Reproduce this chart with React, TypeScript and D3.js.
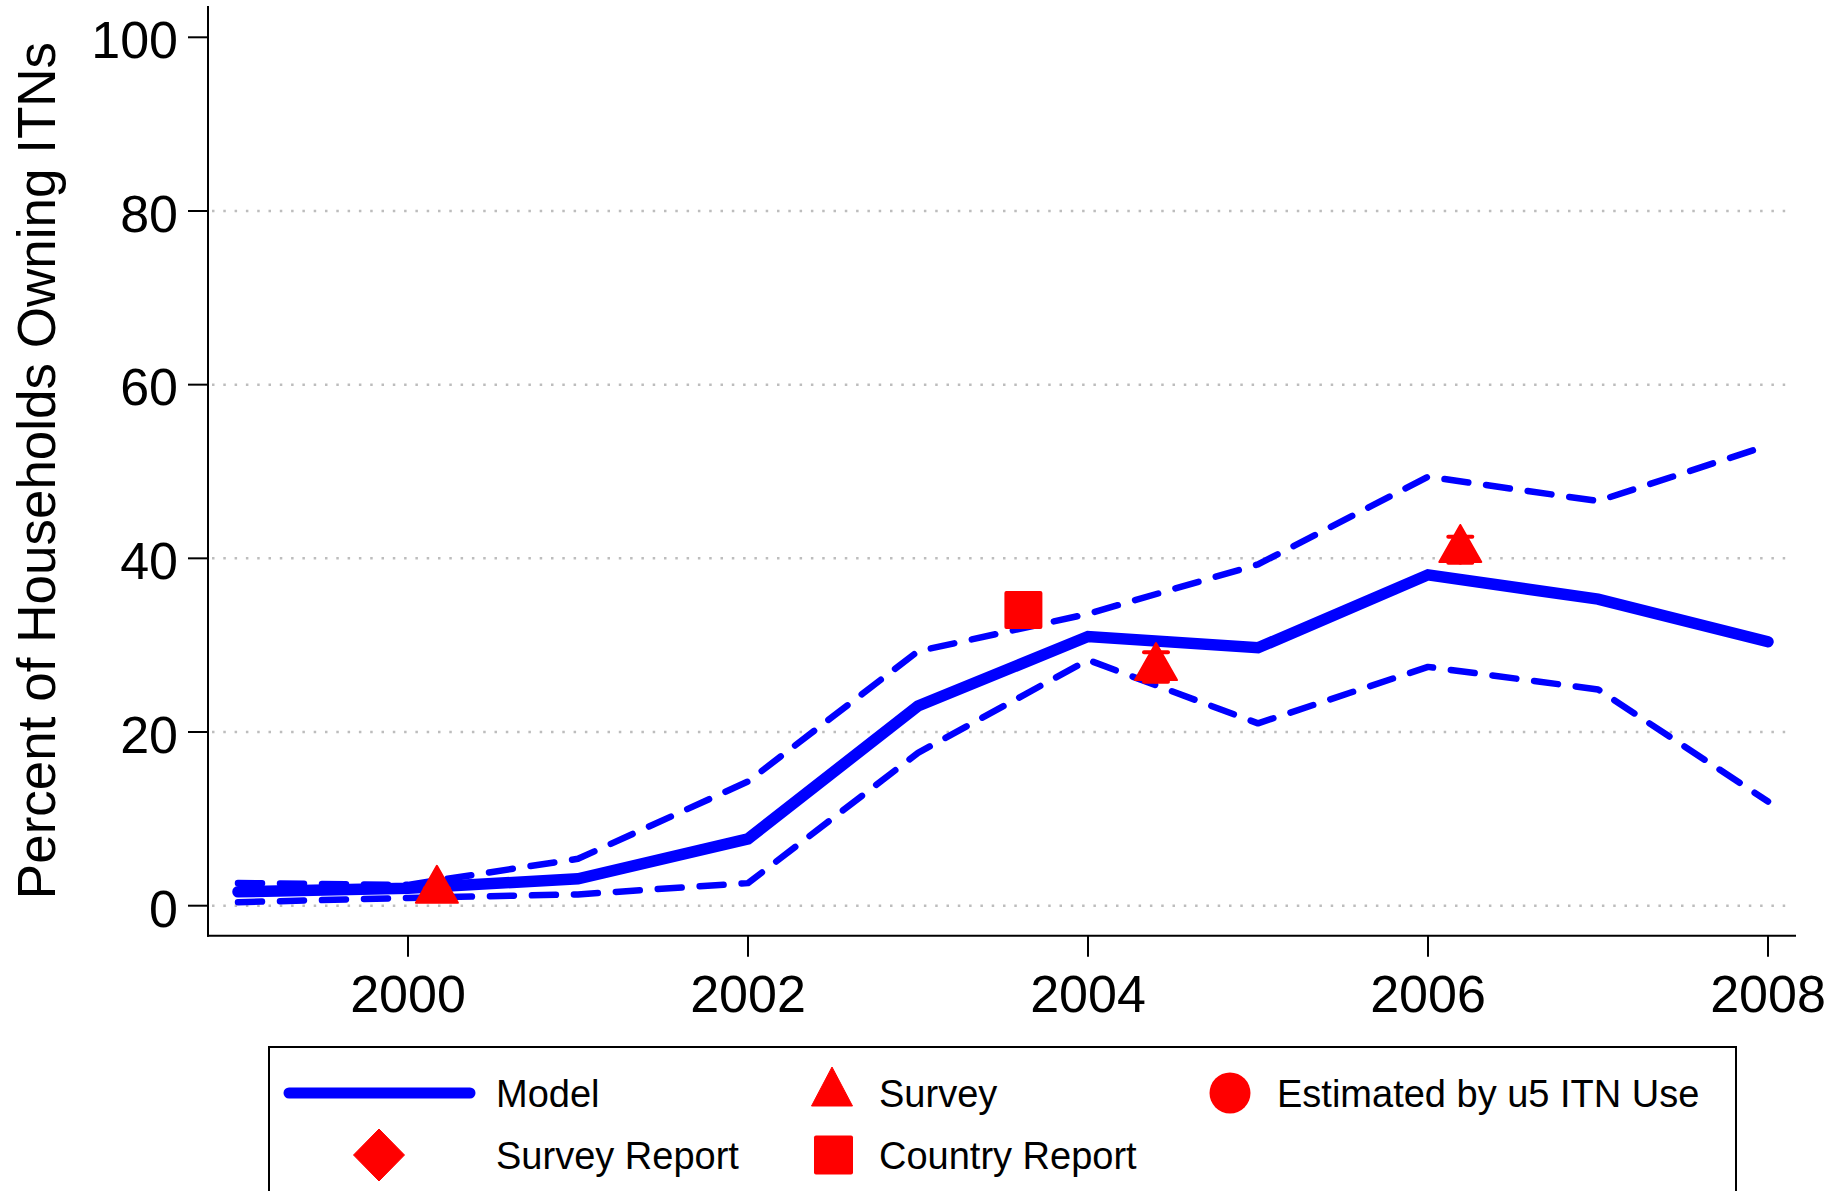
import React from "react";
import * as d3 from "d3";

const years = [1999, 2000, 2001, 2002, 2003, 2004, 2005, 2006, 2007, 2008];
const modelValues = [1.6, 2.0, 3.1, 7.7, 23.0, 31.0, 29.7, 38.1, 35.3, 30.4];
const upperValues = [2.6, 2.4, 5.4, 14.3, 29.3, 33.6, 39.3, 49.4, 46.6, 53.0];
const lowerValues = [0.4, 0.9, 1.3, 2.6, 17.6, 28.3, 21.0, 27.5, 24.9, 12.0];

const surveyYears = [2000.17, 2004.4, 2006.19];
const surveyValues = [1.75, 27.4, 41.0];
const surveyLow = [1.5, 25.8, 39.5];
const surveyHigh = [2.0, 29.2, 42.5];

const countryYears = [2003.62];
const countryValues = [34.05];

const yTicks = [0, 20, 40, 60, 80, 100];
const xTicks = [2000, 2002, 2004, 2006, 2008];

const yTitle = "Percent of Households Owning ITNs";
const legendLabels = ["Model", "Survey", "Estimated by u5 ITN Use", "Survey Report", "Country Report"];

const FONT = "'Liberation Sans', Arial, Helvetica, sans-serif";
const BLUE = "#0000ff";
const RED = "#ff0000";

export default function App() {
  const W = 1833;
  const H = 1191;
  const x = d3.scaleLinear().domain([2000, 2008]).range([408, 1768]);
  const y = d3.scaleLinear().domain([0, 100]).range([905.7, 37.3]);
  const axisX = 208;
  const axisY = 935.7;
  const axisTop = 6;
  const axisRight = 1796;

  const line = d3
    .line<number>()
    .x((_, i) => x(years[i]))
    .y((v) => y(v));

  const triPath = (cx: number, cy: number, w: number, h: number) =>
    `M${cx},${cy - (2 * h) / 3} L${cx + w / 2},${cy + h / 3} L${cx - w / 2},${cy + h / 3} Z`;

  const legRow1 = 1093;
  const legRow2 = 1155;

  return (
    <svg
      width={W}
      height={H}
      style={{ position: "absolute", left: 0, top: 0, background: "#fff" }}
      fontFamily={FONT}
    >
      <rect x={0} y={0} width={W} height={H} fill="#fff" />
      {/* gridlines */}
      {yTicks
        .filter((t) => t < 100)
        .map((t) => (
          <line
            key={"g" + t}
            x1={axisX + 4}
            x2={1792}
            y1={y(t)}
            y2={y(t)}
            stroke="#bdbdbd"
            strokeWidth={2.5}
            strokeDasharray="2.5 8.8"
          />
        ))}

      {/* confidence bounds */}
      <path
        d={line(upperValues) || ""}
        fill="none"
        stroke={BLUE}
        strokeWidth={6.5}
        strokeDasharray="24 18"
        strokeLinecap="round"
        strokeLinejoin="round"
      />
      <path
        d={line(lowerValues) || ""}
        fill="none"
        stroke={BLUE}
        strokeWidth={6.5}
        strokeDasharray="24 18"
        strokeLinecap="round"
        strokeLinejoin="round"
      />
      <path
        d={line(modelValues) || ""}
        fill="none"
        stroke={BLUE}
        strokeWidth={11.5}
        strokeLinecap="round"
        strokeLinejoin="miter"
      />

      {/* survey error bars */}
      {surveyYears.map((yr, i) => (
        <g key={"eb" + i} stroke={RED} strokeWidth={4} strokeLinecap="round">
          <line x1={x(yr)} x2={x(yr)} y1={y(surveyLow[i])} y2={y(surveyHigh[i])} />
          <line x1={x(yr) - 12} x2={x(yr) + 12} y1={y(surveyHigh[i])} y2={y(surveyHigh[i])} />
          <line x1={x(yr) - 12} x2={x(yr) + 12} y1={y(surveyLow[i])} y2={y(surveyLow[i])} />
        </g>
      ))}
      {/* survey triangles */}
      {surveyYears.map((yr, i) => (
        <path
          key={"s" + i}
          d={triPath(x(yr), y(surveyValues[i]), 42, 37)}
          fill={RED}
          stroke={RED}
          strokeWidth={2}
          strokeLinejoin="round"
        />
      ))}
      {/* country report squares */}
      {countryYears.map((yr, i) => (
        <rect
          key={"c" + i}
          x={x(yr) - 19}
          y={y(countryValues[i]) - 19}
          width={38}
          height={38}
          rx={2}
          fill={RED}
        />
      ))}

      {/* axes */}
      <line x1={axisX} x2={axisX} y1={axisTop} y2={axisY + 1} stroke="#000" strokeWidth={2} />
      <line x1={axisX - 1} x2={axisRight} y1={axisY} y2={axisY} stroke="#000" strokeWidth={2} />
      {yTicks.map((t) => (
        <g key={"yt" + t}>
          <line x1={axisX - 20} x2={axisX} y1={y(t)} y2={y(t)} stroke="#000" strokeWidth={2} />
          <text x={178} y={y(t)} dy="0.4em" textAnchor="end" fontSize={52} fill="#000">
            {t}
          </text>
        </g>
      ))}
      {xTicks.map((t) => (
        <g key={"xt" + t}>
          <line x1={x(t)} x2={x(t)} y1={axisY} y2={axisY + 21} stroke="#000" strokeWidth={2} />
          <text x={x(t)} y={1012} textAnchor="middle" fontSize={52} fill="#000">
            {t}
          </text>
        </g>
      ))}
      <text
        transform={`translate(55, 470.5) rotate(-90)`}
        textAnchor="middle"
        fontSize={53}
        fill="#000"
      >
        {yTitle}
      </text>

      {/* legend */}
      <rect x={269} y={1047} width={1467} height={200} fill="#fff" stroke="#000" strokeWidth={2} />
      <line x1={289} x2={470} y1={legRow1} y2={legRow1} stroke={BLUE} strokeWidth={11} strokeLinecap="round" />
      <path d={triPath(832, legRow1, 41, 39)} fill={RED} stroke={RED} strokeWidth={1} strokeLinejoin="round" />
      <circle cx={1230} cy={legRow1} r={20.5} fill={RED} />
      <path
        d={`M379,${legRow2 - 26} L404.5,${legRow2} L379,${legRow2 + 26} L353.5,${legRow2} Z`}
        fill={RED}
        strokeLinejoin="round"
        stroke={RED}
        strokeWidth={1}
      />
      <rect x={814} y={legRow2 - 19.5} width={39} height={39} rx={2} fill={RED} />
      {[
        [496, legRow1, legendLabels[0]],
        [879, legRow1, legendLabels[1]],
        [1277, legRow1, legendLabels[2]],
        [496, legRow2, legendLabels[3]],
        [879, legRow2, legendLabels[4]],
      ].map(([lx, ly, label], i) => (
        <text key={"lt" + i} x={lx as number} y={ly as number} dy="0.36em" fontSize={38} fill="#000">
          {label as string}
        </text>
      ))}
    </svg>
  );
}
